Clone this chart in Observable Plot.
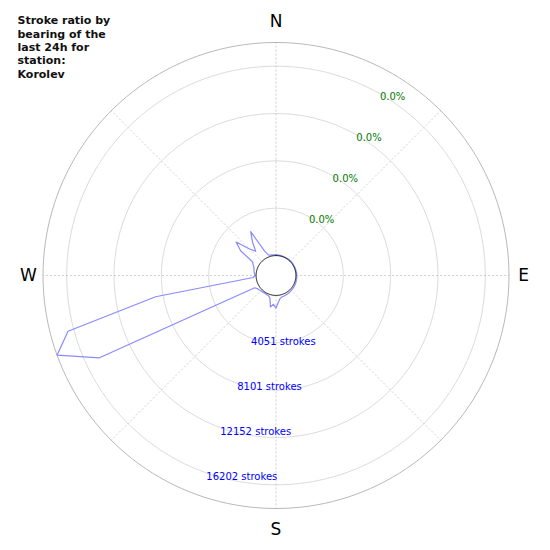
<!DOCTYPE html>
<html>
<head>
<meta charset="utf-8">
<script src="https://cdn.jsdelivr.net/npm/d3@7"></script>
<script src="https://cdn.jsdelivr.net/npm/@observablehq/plot@0.6"></script>
<style>
  html, body { margin: 0; padding: 0; background: #fff; }
  #chart { width: 550px; height: 550px; }
</style>
</head>
<body>
<div id="chart"></div>
<script>
// ---- data ----
const titleText = "Stroke ratio by\nbearing of the\nlast 24h for\nstation:\nKorolev";
const bearings = [0,5,10,15,20,25,30,35,40,45,50,55,60,65,70,75,80,85,90,95,100,105,110,115,
  120,125,130,135,140,145,150,155,160,165,170,175,180,185,190,195,200,205,210,215,220,225,230,235,
  240,245,250,255,260,265,270,275,280,285,290,295,300,305,310,315,320,325,330,335,340,345,350,355];
const strokes = [80,60,50,50,40,40,40,50,50,60,60,60,50,50,60,60,60,70,80,80,90,90,100,100,
  110,120,120,130,140,150,160,170,180,200,300,600,1080,770,1030,300,150,120,100,100,120,150,200,250,
  400,14960,18228,16715,8750,250,100,150,200,250,300,450,600,1990,2750,1500,1000,1800,2630,600,150,100,90,80];
const strokeTicks = [4051, 8101, 12152, 16202];
const pctLabels = ["0.0%", "0.0%", "0.0%", "0.0%"];
const cardinals = ["N", "E", "S", "W"];
const cardinalBearings = [0, 90, 180, 270];
const spokeBearings = [0, 45, 90, 135, 180, 225, 270, 315];
const rMax = 18228;

// ---- geometry helpers ----
const INNER = rMax * 20 / 214;        // hole in the middle (value units)
const OUTER = INNER + rMax;
const PX = 233 / OUTER;               // px per value unit
const rad = v => INNER + v;
const px = (b, r) => r * Math.sin(b * Math.PI / 180);
const py = (b, r) => r * Math.cos(b * Math.PI / 180);
const circle = r => d3.range(0, 361, 2).map(b => ({x: px(b, r), y: py(b, r)}));

const data = bearings.map((b, i) => ({b, v: strokes[i]}));
const rings = strokeTicks.flatMap(t => circle(rad(t)).map(p => ({...p, t})));
const spokes = spokeBearings.map(b => ({b}));
const tickRows = strokeTicks.map((t, i) => ({t, label: `${t} strokes`, pct: pctLabels[i]}));
const cardRows = cardinals.map((c, i) => ({c, b: cardinalBearings[i]}));
const cardRadius = b => (b % 180 === 0 ? 254 : 247.5) / PX;

const cx = 275.5, cy = 275;
const chart = Plot.plot({
  width: 550,
  height: 550,
  margin: 0,
  style: {fontFamily: "DejaVu Sans", background: "white"},
  x: {domain: [-cx / PX, (550 - cx) / PX], range: [0, 550], axis: null},
  y: {domain: [-(550 - cy) / PX, cy / PX], range: [550, 0], axis: null},
  marks: [
    // rings
    Plot.line(rings, {x: "x", y: "y", z: "t", stroke: "#d2d2d2", strokeWidth: 0.8}),
    // spokes
    Plot.link(spokes, {
      x1: d => px(d.b, INNER), y1: d => py(d.b, INNER),
      x2: d => px(d.b, OUTER), y2: d => py(d.b, OUTER),
      stroke: "#c4c4c4", strokeWidth: 0.8, strokeDasharray: "2,2"
    }),
    // outer circle
    Plot.line(circle(OUTER), {x: "x", y: "y", stroke: "#b0b0b0", strokeWidth: 0.9}),
    // data
    Plot.line(data, {
      x: d => px(d.b, rad(d.v)), y: d => py(d.b, rad(d.v)),
      curve: "linear-closed", stroke: "#8a8aff", strokeWidth: 1.2
    }),
    // inner circle
    Plot.line(circle(INNER), {x: "x", y: "y", stroke: "#000", strokeWidth: 0.9}),
    // stroke tick labels
    Plot.text(tickRows, {
      x: d => px(197, rad(d.t)), y: d => py(197, rad(d.t)),
      text: "label", dx: 27, dy: 1.5, fill: "#0000ff", fontSize: 10, textAnchor: "middle"
    }),
    // percent tick labels
    Plot.text(tickRows, {
      x: d => px(30, rad(d.t)), y: d => py(30, rad(d.t)),
      text: "pct", dx: 12, dy: 3, fill: "#007a00", fontSize: 10, textAnchor: "middle"
    }),
    // cardinal labels
    Plot.text(cardRows, {
      x: d => px(d.b, cardRadius(d.b)), y: d => py(d.b, cardRadius(d.b)),
      text: "c", fontSize: 17, fill: "#000", textAnchor: "middle"
    }),
    // title
    Plot.text([titleText], {
      frameAnchor: "top-left", text: d => d, dx: 17, dy: 14.5,
      fontWeight: "bold", fontSize: 11, lineHeight: 1.21, lineAnchor: "top", textAnchor: "start", fill: "#111"
    })
  ]
});
document.getElementById("chart").appendChild(chart);
</script>
</body>
</html>
